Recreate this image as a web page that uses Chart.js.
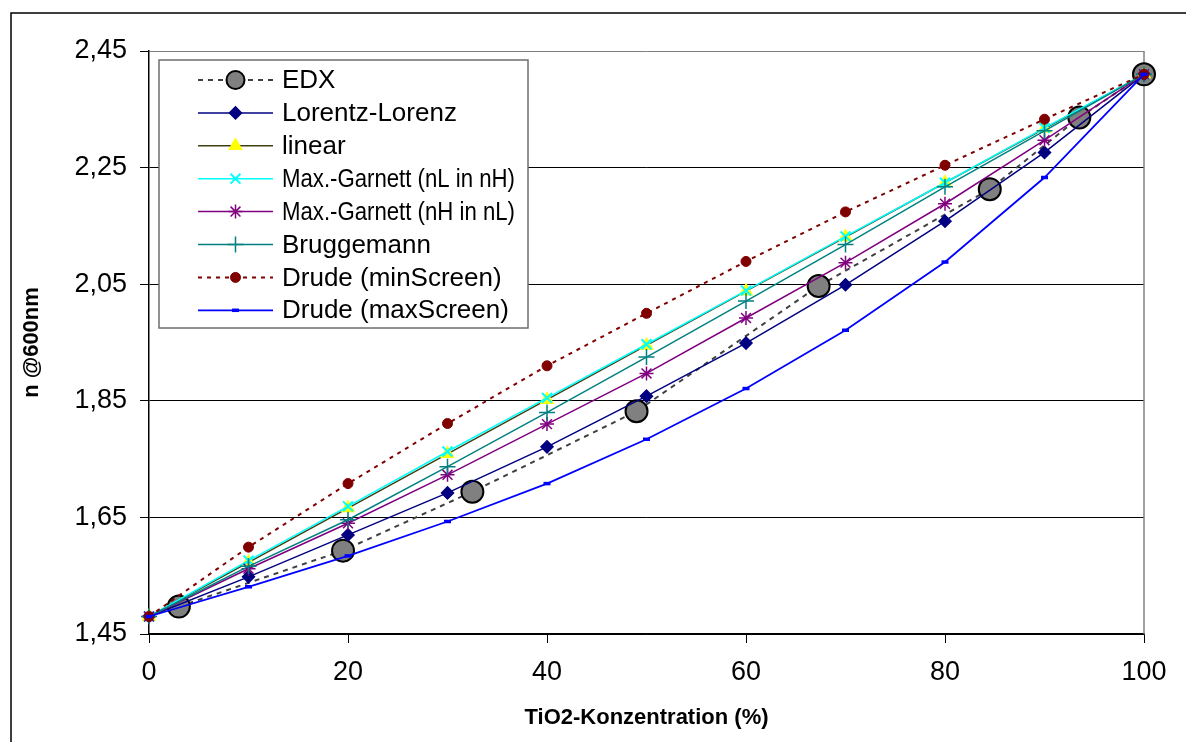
<!DOCTYPE html>
<html><head><meta charset="utf-8">
<script src="https://cdn.jsdelivr.net/npm/chart.js@4/dist/chart.umd.min.js"></script>
<style>html,body{margin:0;padding:0;background:#fff;overflow:hidden}</style>
</head><body>
<canvas id="c" width="1186" height="742"></canvas>
<script>
// ---- data ----
const concentrations = [0, 10, 20, 30, 40, 50, 60, 70, 80, 90, 100];
const edxX = [3.0, 19.5, 32.5, 49.0, 67.3, 84.5, 93.5, 100];
const edxN = [1.497, 1.593, 1.694, 1.832, 2.047, 2.213, 2.336, 2.410];
const lorentzLorenz = [1.48, 1.548, 1.620, 1.692, 1.771, 1.858, 1.949, 2.049, 2.158, 2.276, 2.41];
const linearMix     = [1.48, 1.573, 1.666, 1.759, 1.852, 1.945, 2.038, 2.131, 2.224, 2.317, 2.41];
const mgLinH        = [1.48, 1.576, 1.669, 1.763, 1.855, 1.947, 2.039, 2.132, 2.224, 2.318, 2.41];
const mgHinL        = [1.48, 1.562, 1.640, 1.723, 1.810, 1.897, 1.992, 2.087, 2.188, 2.297, 2.41];
const bruggemann    = [1.48, 1.566, 1.646, 1.737, 1.830, 1.925, 2.021, 2.118, 2.217, 2.313, 2.41];
const drudeMin      = [1.48, 1.599, 1.708, 1.811, 1.910, 2.000, 2.089, 2.174, 2.254, 2.333, 2.41];
const drudeMax      = [1.48, 1.531, 1.584, 1.643, 1.708, 1.784, 1.871, 1.971, 2.088, 2.233, 2.41];
const seriesLabels = ['EDX', 'Lorentz-Lorenz', 'linear', 'Max.-Garnett (nL in nH)', 'Max.-Garnett (nH in nL)', 'Bruggemann', 'Drude (minScreen)', 'Drude (maxScreen)'];
const xTicks = [0, 20, 40, 60, 80, 100];
const yTicks = [1.45, 1.65, 1.85, 2.05, 2.25, 2.45];
const xTitle = 'TiO2-Konzentration (%)';
const yTitle = 'n @600nm';

const FAMILY = "'Liberation Sans', Arial, Helvetica, sans-serif";
const pts = arr => concentrations.map((x, i) => ({x: x, y: arr[i]}));

function ds(label, data, o) {
  return Object.assign({
    label: label, data: data, tension: 0, clip: false, fill: false,
    borderWidth: 1.5, pointBorderWidth: 1.5, pointHoverRadius: 0
  }, o);
}

const datasets = [
  ds(seriesLabels[0], edxX.map((x, i) => ({x: x, y: edxN[i]})), {
    borderColor: '#404040', borderDash: [5, 5], borderWidth: 2,
    pointStyle: 'circle', pointRadius: 11, pointBackgroundColor: '#808080',
    pointBorderColor: '#000000', pointBorderWidth: 2, order: 8, legendRadius: 9 }),
  ds(seriesLabels[1], pts(lorentzLorenz), {
    borderColor: '#000080', pointStyle: 'rectRot', pointRadius: 6,
    pointBackgroundColor: '#000080', pointBorderColor: '#000080', order: 7 }),
  ds(seriesLabels[2], pts(linearMix), {
    borderColor: '#3f3f14', pointStyle: 'triangle', pointRadius: 7,
    pointBackgroundColor: '#ffff00', pointBorderColor: '#ffff00', order: 6 }),
  ds(seriesLabels[3], pts(mgLinH), {
    borderColor: '#00ffff', pointStyle: 'crossRot', pointRadius: 7,
    pointBackgroundColor: '#00ffff', pointBorderColor: '#00ffff', pointBorderWidth: 2, order: 5 }),
  ds(seriesLabels[4], pts(mgHinL), {
    borderColor: '#800080', pointStyle: 'star', pointRadius: 7,
    pointBackgroundColor: '#800080', pointBorderColor: '#800080', order: 4 }),
  ds(seriesLabels[5], pts(bruggemann), {
    borderColor: '#008080', pointStyle: 'cross', pointRadius: 8,
    pointBackgroundColor: '#008080', pointBorderColor: '#008080', order: 3 }),
  ds(seriesLabels[6], pts(drudeMin), {
    borderColor: '#800000', borderDash: [4, 5], borderWidth: 2, pointStyle: 'circle', pointRadius: 5,
    pointBackgroundColor: '#800000', pointBorderColor: '#800000', pointBorderWidth: 1, order: 2 }),
  ds(seriesLabels[7], pts(drudeMax), {
    borderColor: '#0000ff', borderWidth: 1.8, pointStyle: 'line', pointRadius: 3.5,
    pointBackgroundColor: '#0000ff', pointBorderColor: '#0000ff', pointBorderWidth: 3.5, order: 1 })
];

function drawMarker(ctx, style, r, x, y, bw) {
  if (Chart.helpers && Chart.helpers.drawPoint) {
    Chart.helpers.drawPoint(ctx, {pointStyle: style, radius: r, rotation: 0, borderWidth: bw}, x, y);
  }
}

const framePlugin = {
  id: 'frame',
  beforeDraw(chart) {
    const ctx = chart.ctx;
    ctx.save();
    ctx.fillStyle = '#ffffff';
    ctx.fillRect(0, 0, chart.width, chart.height);
    ctx.strokeStyle = '#000000';
    ctx.lineWidth = 1.5;
    ctx.strokeRect(11, 13, chart.width + 20, chart.height + 20);
    ctx.restore();
  },
  beforeDatasetsDraw(chart) {
    const a = chart.chartArea, ctx = chart.ctx;
    ctx.save();
    ctx.strokeStyle = '#808080';
    ctx.lineWidth = 1.5;
    ctx.beginPath();
    ctx.moveTo(a.right, a.top);
    ctx.lineTo(a.right, a.bottom);
    ctx.stroke();
    ctx.restore();
  }
};

const legendPlugin = {
  id: 'boxLegend',
  afterDraw(chart) {
    const ctx = chart.ctx;
    const box = {x: 159, y: 60, w: 369, h: 268};
    const row0 = 80, rowH = 32.9, l0 = 198, l1 = 273, tx = 282, maxW = 233;
    ctx.save();
    ctx.fillStyle = '#ffffff';
    ctx.fillRect(box.x, box.y, box.w, box.h);
    ctx.strokeStyle = '#6e6e6e';
    ctx.lineWidth = 1.5;
    ctx.strokeRect(box.x, box.y, box.w, box.h);
    chart.data.datasets.forEach((d, i) => {
      const y = row0 + i * rowH;
      ctx.save();
      ctx.strokeStyle = d.borderColor;
      ctx.lineWidth = d.borderWidth;
      ctx.setLineDash(d.borderDash || []);
      ctx.beginPath();
      ctx.moveTo(l0, y); ctx.lineTo(l1, y);
      ctx.stroke();
      ctx.setLineDash([]);
      ctx.fillStyle = d.pointBackgroundColor;
      ctx.strokeStyle = d.pointBorderColor;
      ctx.lineWidth = d.pointBorderWidth;
      drawMarker(ctx, d.pointStyle, d.legendRadius || d.pointRadius, (l0 + l1) / 2, y, d.pointBorderWidth);
      ctx.restore();
      ctx.fillStyle = '#000000';
      ctx.font = '26px ' + FAMILY;
      ctx.textBaseline = 'middle';
      ctx.textAlign = 'left';
      ctx.fillText(d.label, tx, y + 1, maxW);
    });
    ctx.restore();
  }
};

new Chart(document.getElementById('c'), {
  type: 'line',
  data: {datasets: datasets},
  plugins: [framePlugin, legendPlugin],
  options: {
    responsive: false, animation: false, devicePixelRatio: 1,
    layout: {padding: {left: 0, top: 51, right: 42, bottom: 0}},
    plugins: {legend: {display: false}, tooltip: {enabled: false}},
    events: [],
    scales: {
      x: {
        type: 'linear', min: 0, max: 100,
        afterBuildTicks: s => { s.ticks = xTicks.map(v => ({value: v})); },
        afterFit: s => { s.height = 108; },
        grid: {drawOnChartArea: false, tickLength: 9, tickColor: '#000000', tickWidth: 1},
        border: {color: '#000000', width: 1.5},
        ticks: {color: '#000000', font: {family: FAMILY, size: 27}, padding: 13, maxRotation: 0, autoSkip: false,
                callback: v => String(v)},
        title: {display: true, text: xTitle, color: '#000000',
                font: {family: FAMILY, size: 22, weight: 'bold'}, padding: {top: 0, bottom: 11}}
      },
      y: {
        type: 'linear', min: 1.45, max: 2.45,
        afterBuildTicks: s => { s.ticks = yTicks.map(v => ({value: v})); },
        afterFit: s => { s.width = 149; },
        grid: {color: c => (c.tick && c.tick.value > 2.44) ? '#808080' : '#000000',
               lineWidth: 1, tickLength: 9, tickColor: '#000000', tickWidth: 1},
        border: {color: '#000000', width: 1.5},
        ticks: {color: '#000000', font: {family: FAMILY, size: 27}, padding: 13,
                callback: v => Number(v).toFixed(2).replace('.', ',')},
        title: {display: true, text: yTitle, color: '#000000',
                font: {family: FAMILY, size: 22, weight: 'bold'}, padding: {top: 19, bottom: 0}}
      }
    }
  }
});
</script>
</body></html>
